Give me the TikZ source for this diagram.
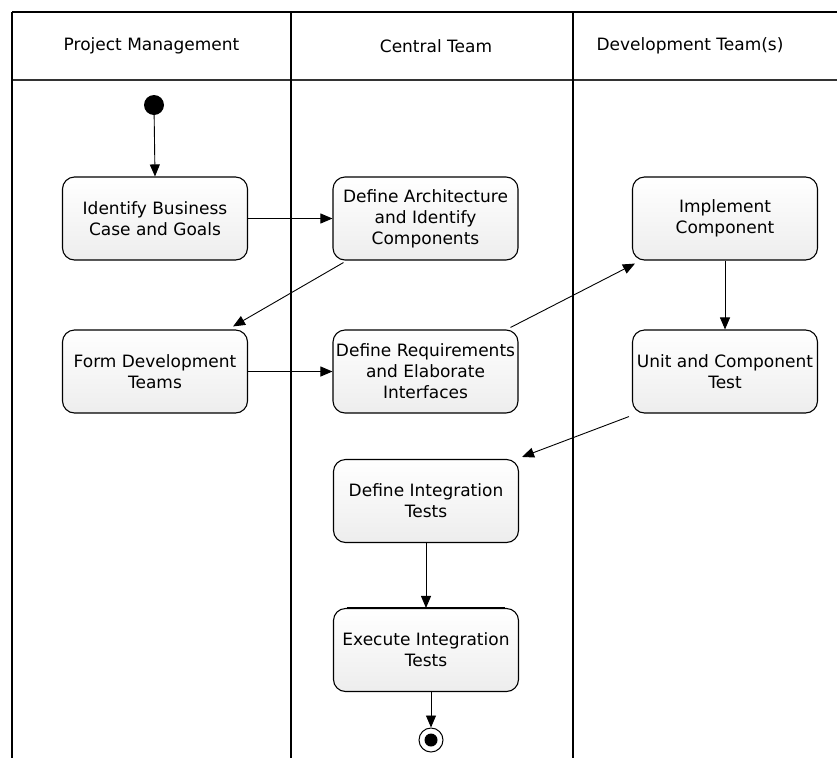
\documentclass[tikz,border=0pt]{standalone}
\usepackage{fontspec}
\setmainfont{DejaVu Sans}
\usetikzlibrary{arrows.meta,calc}

\tikzset{
  act/.style={draw=black, line width=1.1pt, rounded corners=12pt,
    minimum width=185pt, minimum height=83pt, inner sep=2pt, align=center,
    top color=white, bottom color=black!7,
    font=\fontsize{17}{21}\selectfont},
  lanetitle/.style={font=\fontsize{17}{21}\selectfont, inner sep=0pt},
  flow/.style={-{Triangle[length=12pt,width=10pt]}, line width=0.9pt},
  lane/.style={line width=1.3pt},
}

\begin{document}
\begin{tikzpicture}[x=1pt,y=-1pt]
\useasboundingbox (0,0) rectangle (837,758);

% swimlane frame
\draw[line width=2.4pt] (12,12) -- (837,12);
\draw[lane, black!80] (12,80) -- (837,80);
\draw[lane] (12,12) -- (12,758);
\draw[lane] (291,12) -- (291,758);
\draw[line width=2.6pt] (573,12) -- (573,758);

% lane titles
\node[lanetitle] (tpm) at (151.5,46) {Project Management};
\node[lanetitle] (tct) at (436,46) {Central Team};
\node[lanetitle] (tdt) at (690,46) {Development Team(s)};

% initial and final states
\node[circle, fill=black, minimum size=20pt, inner sep=0pt] (start) at (154,105) {};
\node[circle, draw=black, line width=1pt, minimum size=24pt, inner sep=0pt] (finish) at (431,740) {};
\node[circle, fill=black, minimum size=13pt, inner sep=0pt] (finishdot) at (finish) {};

% activities
\node[act] (ibc)   at (155,218.5)   {Identify Business\\Case and Goals};
\node[act] (darch) at (425.5,218.5) {Define Architecture\\and Identify\\Components};
\node[act] (impl)  at (725,218.5)   {Implement\\Component};
\node[act] (fdt)   at (155,371.5)   {Form Development\\Teams};
\node[act] (dreq)  at (425.5,371.5) {Define Requirements\\and Elaborate\\Interfaces};
\node[act] (uct)   at (725,371.5)   {Unit and Component\\Test};
\node[act] (dit)   at (426,501)     {Define Integration\\Tests};
\node[act] (eit)   at (426,650)     {Execute Integration\\Tests};

% heavier top edge on the last activity
\draw[line width=2.4pt] ($(eit.north west)+(14,0)$) -- ($(eit.north east)+(-14,0)$);

% control flow
\draw[flow] (start) -- (ibc.north);
\draw[flow] (ibc.east) -- (darch.west);
\draw[flow] ($(darch.south west)+(11,2)$) -- ($(fdt.north east)+(-15,-3)$);
\draw[flow] (fdt.east) -- (dreq.west);
\draw[flow] ($(dreq.north east)+(-8,-2)$) -- ($(impl.south west)+(3,3)$);
\draw[flow] (impl.south) -- (uct.north);
\draw[flow] ($(uct.south west)+(-3,3)$) -- ($(dit.north east)+(3,-2)$);
\draw[flow] (dit.south) -- (eit.north);
\draw[flow] (eit.south -| finish.north) -- (finish.north);
\end{tikzpicture}
\end{document}
